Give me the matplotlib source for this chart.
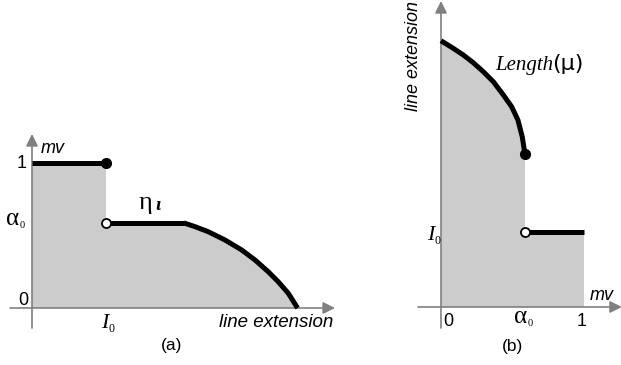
import numpy as np
import matplotlib
matplotlib.use('Agg')
import matplotlib.pyplot as plt

W, H = 621, 365

# shared constants
alpha0 = 0.587
I0 = 1.0

# panel (a): mv against line extension (units of I0)
a_top_x = [0.0, I0]
a_top_y = [1.0, 1.0]
a_plateau_x = [I0, 2.05]
a_plateau_y = [alpha0, alpha0]
a_curve_x = [2.05, 2.068, 2.203, 2.382, 2.608, 2.834, 3.014, 3.193, 3.328, 3.464, 3.577, 3.59]
a_curve_y = [alpha0, 0.584, 0.561, 0.526, 0.469, 0.400, 0.331, 0.250, 0.181, 0.101, 0.009, 0.0]

# panel (b): line extension against mv
b_curve_x = [0.0, 0.086, 0.156, 0.226, 0.296, 0.366, 0.436, 0.494, 0.538, 0.568, alpha0]
b_curve_y = [3.55, 3.449, 3.36, 3.257, 3.137, 3.004, 2.827, 2.671, 2.493, 2.271, 2.04]
b_plateau_x = [alpha0, 1.0]
b_plateau_y = [I0, I0]

GREY = '#cccccc'
AXC = '#808080'
LW = 3.6
SANS = 'Liberation Sans'
SERIF = 'Liberation Serif'


def make_axes(fig, box, origin, scale):
    x0, y0, x1, y1 = box
    ax = fig.add_axes([x0 / W, 1 - y1 / H, (x1 - x0) / W, (y1 - y0) / H])
    ox, oy = origin
    sx, sy = scale
    ax.set_xlim((x0 - ox) / sx, (x1 - ox) / sx)
    ax.set_ylim((oy - y1) / sy, (oy - y0) / sy)
    ax.axis('off')
    return ax


def arrow(ax, start, end):
    ax.annotate('', xy=end, xytext=start, annotation_clip=False,
                arrowprops=dict(arrowstyle='-|>,head_length=0.6,head_width=0.3',
                                color=AXC, lw=1.2, shrinkA=0, shrinkB=0,
                                mutation_scale=12))


def sub_label(ax, main, x, y, sx, sy, size, sub_size, style='normal'):
    # glyph with a tiny serif "0" subscript
    ax.text(x, y, main, fontsize=size, family=SERIF, style=style, ha='left', va='baseline')
    ax.text(sx, sy, '0', fontsize=sub_size, family=SERIF, ha='left', va='baseline')


def main():
    fig = plt.figure(figsize=(W / 100, H / 100), dpi=100)

    # ---------- (a) ----------
    ax = make_axes(fig, (0, 120, 345, 340), (32, 308), (74, 145))
    fx = a_top_x + a_plateau_x + a_curve_x
    fy = a_top_y + a_plateau_y + a_curve_y
    ax.fill(fx + [0.0], fy + [0.0], color=GREY, lw=0, zorder=1)
    arrow(ax, (-0.297, 0), (4.095, 0))
    arrow(ax, (0, -0.138), (0, 1.2))
    ax.plot(a_top_x, a_top_y, color='black', lw=LW, solid_capstyle='butt', zorder=3)
    ax.plot(a_plateau_x, a_plateau_y, color='black', lw=LW, solid_capstyle='butt', zorder=3)
    ax.plot(a_curve_x, a_curve_y, color='black', lw=LW, solid_capstyle='butt',
            solid_joinstyle='round', zorder=3)
    ax.plot([I0], [1.0], 'o', color='black', ms=7, zorder=4)
    ax.plot([I0], [alpha0], 'o', mfc='white', mec='black', mew=1.3, ms=6.5, zorder=4)

    ax.text(0.12, 1.10, 'mv', fontsize=13, style='italic', family=SANS, ha='left', va='center')
    ax.text(-0.07, 1.0, '1', fontsize=13, family=SANS, ha='right', va='center')
    ax.text(-0.054, 0.05, '0', fontsize=13, family=SANS, ha='right', va='center')
    sub_label(ax, 'α', -0.345, 0.572, -0.162, 0.555, 18, 7.5)
    sub_label(ax, 'I', 0.932, -0.138, 1.035, -0.166, 16, 8.5, style='italic')
    ax.text(1.44, 0.68, 'η', fontsize=19, family=SERIF, ha='left', va='baseline')
    ax.text(1.66, 0.676, 'ι', fontsize=14, family=SERIF, style='italic',
            weight='bold', ha='left', va='baseline')
    ax.text(4.07, -0.097, 'line extension', fontsize=13.5, style='italic', family=SANS,
            ha='right', va='center')
    ax.text(1.89, -0.262, '(a)', fontsize=12.5, family=SANS, ha='center', va='center')

    # ---------- (b) ----------
    bx = make_axes(fig, (400, 0, 621, 340), (441, 307), (143, 75))
    gx = b_curve_x + b_plateau_x + [1.0, 0.0]
    gy = b_curve_y + b_plateau_y + [0.0, 0.0]
    bx.fill(gx, gy, color=GREY, lw=0, zorder=1)
    arrow(bx, (-0.161, 0), (1.265, 0))
    arrow(bx, (0, -0.28), (0, 4.08))
    bx.plot(b_curve_x, b_curve_y, color='black', lw=LW, solid_capstyle='butt',
            solid_joinstyle='round', zorder=3)
    bx.plot(b_plateau_x, b_plateau_y, color='black', lw=LW, solid_capstyle='butt', zorder=3)
    bx.plot([alpha0], [b_curve_y[-1]], 'o', color='black', ms=7, zorder=4)
    bx.plot([alpha0], [I0], 'o', mfc='white', mec='black', mew=1.3, ms=6.5, zorder=4)

    bx.text(-0.189, 3.345, 'line extension', fontsize=13, style='italic', family=SANS,
            rotation=90, ha='center', va='center')
    bx.text(0.378, 3.16, 'Length', fontsize=15, style='italic', family=SERIF,
            ha='left', va='baseline')
    bx.text(0.78, 3.16, '(μ)', fontsize=16, family='DejaVu Sans', ha='left', va='baseline')
    bx.text(1.042, 0.147, 'mv', fontsize=13, style='italic', family=SANS, ha='left', va='center')
    bx.text(0.05, -0.187, '0', fontsize=13, family=SANS, ha='center', va='center')
    sub_label(bx, 'α', 0.51, -0.213, 0.608, -0.253, 18, 7.5)
    bx.text(0.986, -0.187, '1', fontsize=13, family=SANS, ha='center', va='center')
    sub_label(bx, 'I', -0.098, 0.893, -0.045, 0.84, 16, 8.5, style='italic')
    bx.text(0.497, -0.533, '(b)', fontsize=12.5, family=SANS, ha='center', va='center')

    fig.savefig('out.png', dpi=100)


if __name__ == "__main__":
    main()
